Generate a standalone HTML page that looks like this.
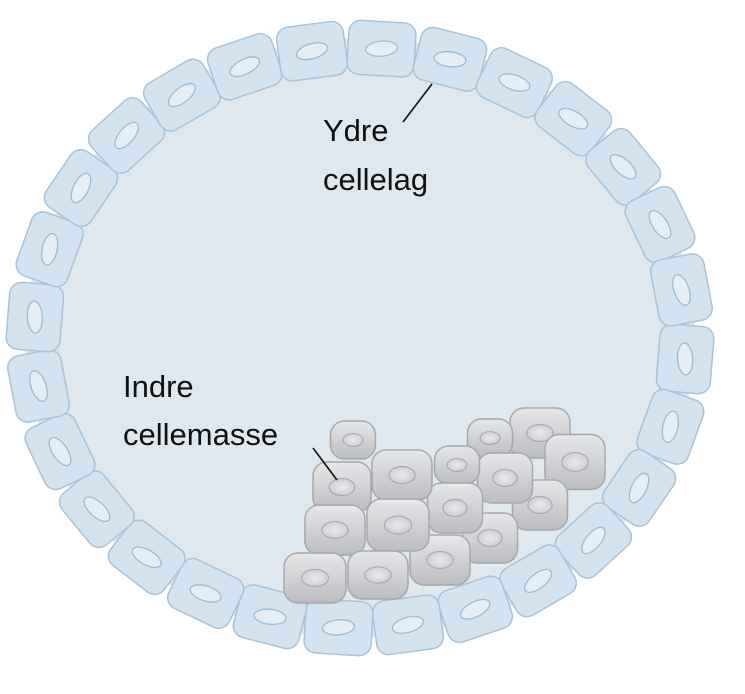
<!DOCTYPE html>
<html><head><meta charset="utf-8"><style>
html,body{margin:0;padding:0;background:#fff;width:745px;height:694px;overflow:hidden}
svg{display:block}
text{font-family:"Liberation Sans",sans-serif;font-size:31px;fill:#111}
</style></head><body>
<svg id="s" width="745" height="694" viewBox="0 0 745 694">
<defs>
<linearGradient id="g" x1="0" y1="0" x2="0" y2="1">
<stop offset="0" stop-color="#e6e7e9"/><stop offset="1" stop-color="#bbbdc0"/></linearGradient>
<radialGradient id="n"><stop offset="0" stop-color="#eaebed"/><stop offset="1" stop-color="#cdcfd2"/></radialGradient>
</defs>
<ellipse cx="360" cy="338" rx="335" ry="300" fill="#dfe7ef"/>
<g id="ring"></g>
<g id="icm"></g>
<line x1="403" y1="122" x2="432" y2="84" stroke="#111" stroke-width="1.6"/>
<line x1="313" y1="448" x2="337" y2="480" stroke="#111" stroke-width="1.6"/>
<text x="323" y="141">Ydre</text>
<text x="323" y="190">cellelag</text>
<text x="123" y="397">Indre</text>
<text x="123" y="445">cellemasse</text>
</svg>
<script>
var NS="http://www.w3.org/2000/svg";
function el(t,a,p){var e=document.createElementNS(NS,t);for(var k in a)e.setAttribute(k,a[k]);p.appendChild(e);return e;}
var ring=document.getElementById("ring"),cx=360,cy=338,rx=326,ry=290,N=28;
var pts=[],L=[0],M=2000;
for(var i=0;i<=M;i++){var t=i/M*2*Math.PI;pts.push([cx+rx*Math.cos(t),cy+ry*Math.sin(t)]);if(i>0){var dx=pts[i][0]-pts[i-1][0],dy=pts[i][1]-pts[i-1][1];L.push(L[i-1]+Math.hypot(dx,dy));}}
var P=L[M],w=P/N-2;
for(var k=0;k<N;k++){
 var target=(k+0.3)/N*P,j=0;while(L[j]<target)j++;
 var t=j/M*2*Math.PI,x=pts[j][0],y=pts[j][1];
 var ang=Math.atan2(ry*Math.cos(t),-rx*Math.sin(t))*180/Math.PI;
 var g=el("g",{transform:"translate("+x+","+y+") rotate("+ang+")"},ring);
 el("rect",{x:-w/2,y:-27,width:w,height:54,rx:12,fill:"#d3e4f0",stroke:"#a9c3d8","stroke-width":1.5},g);
 el("ellipse",{cx:0,cy:0,rx:16,ry:7.5,fill:"#e3eef6",stroke:"#9fbbd2","stroke-width":1.3,transform:"rotate(-8)"},g);
}
var icm=document.getElementById("icm");
var c=[[540,433,60,50],[490,438,45,38],[353,440,45,38],[575,462,60,55],[540,505,55,50],[505,478,55,50],[457,465,45,38],
[490,538,55,50],[455,508,55,50],[402,475,60,50],[342,487,58,50],[440,560,60,50],[398,525,62,52],[335,530,60,50],[378,575,60,48],[315,578,62,50]];
c.forEach(function(q){
 var g=el("g",{transform:"translate("+q[0]+","+q[1]+")"},icm);
 el("rect",{x:-q[2]/2,y:-q[3]/2,width:q[2],height:q[3],rx:14,fill:"url(#g)",stroke:"#a6a8ab","stroke-width":1.5},g);
 el("ellipse",{cx:0,cy:0,rx:q[2]*0.22,ry:q[3]*0.17,fill:"url(#n)",stroke:"#a9abae","stroke-width":1.2},g);
});
</script>
</body></html>
